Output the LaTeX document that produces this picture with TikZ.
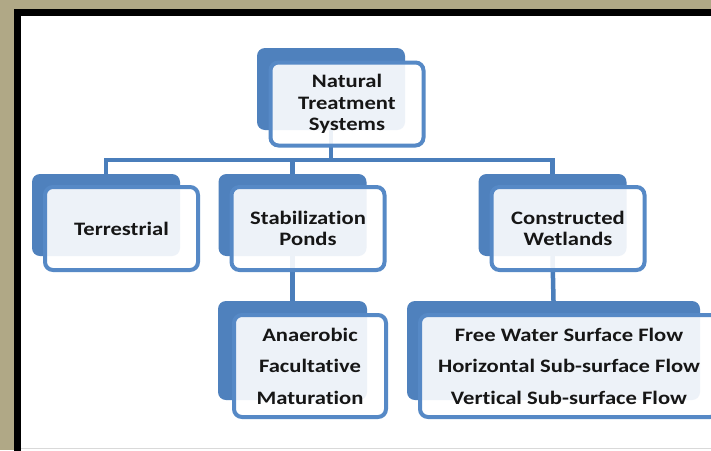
\documentclass[tikz,border=0pt]{standalone}
\usepackage{fontspec}
\setmainfont{Carlito}[FakeStretch=1.19,Ligatures=NoCommon]
\usepackage{tikz}
\usetikzlibrary{backgrounds,calc}
\definecolor{boxblue}{RGB}{79,129,189}
\definecolor{rimblue}{RGB}{86,137,198}
\definecolor{linkblue}{RGB}{74,126,187}
\definecolor{grass}{RGB}{176,168,134}
\definecolor{inktext}{RGB}{22,22,22}
\tikzset{
  backbox/.style={rectangle,rounded corners=8pt,fill=boxblue,draw=none,inner sep=0pt},
  frontbox/.style={rectangle,rounded corners=8pt,draw=rimblue,line width=4pt,
               fill=white,fill opacity=.9,text opacity=1,inner sep=0pt,align=center,
               text=inktext,font=\bfseries\fontsize{19}{21.5}\selectfont},
  listbox/.style={frontbox,font=\bfseries\fontsize{19}{31.5}\selectfont},
  link/.style={draw=linkblue,line width=4.5pt},
}

\begin{document}
\begin{tikzpicture}[x=1pt,y=-1pt]
  \useasboundingbox (0,0) rectangle (711,450);
  \def\bw{148pt}\def\bh{82pt}\def\fw{153pt}\def\fh{83pt}
  % level one
  \node[backbox,minimum width=\bw,minimum height=\bh] (natB) at (331,89) {};
  \node[frontbox,minimum width=\fw,minimum height=\fh] (nat) at (347,104)
    {Natural\\Treatment\\Systems};
  \node[backbox,minimum width=\bw,minimum height=\bh] (terB) at (106,215) {};
  \node[frontbox,minimum width=\fw,minimum height=\fh] (ter) at (121.5,228.5)
    {Terrestrial};
  \node[backbox,minimum width=\bw,minimum height=\bh] (staB) at (292.5,215) {};
  \node[frontbox,minimum width=\fw,minimum height=\fh] (sta) at (308,228.5)
    {Stabilization\\Ponds};
  \node[backbox,minimum width=\bw,minimum height=\bh] (conB) at (552.5,215) {};
  \node[frontbox,minimum width=\fw,minimum height=\fh] (con) at (568,228.5)
    {Constructed\\Wetlands};
  % level two
  \node[backbox,minimum width=149pt,minimum height=99pt] (anaB) at (292.5,350.5) {};
  \node[listbox,minimum width=152pt,minimum height=102pt] (ana) at (310,366)
    {Anaerobic\\Facultative\\Maturation};
  \node[backbox,minimum width=293pt,minimum height=99pt] (wetB) at (553.5,350.5) {};
  \node[listbox,minimum width=298pt,minimum height=102pt] (wet) at (569,366)
    {Free Water Surface Flow\\Horizontal Sub-surface Flow\\Vertical Sub-surface Flow};
  \begin{scope}[on background layer]
    \fill[grass] (0,0) rectangle (711,450);
    \draw[black,line width=7pt,fill=white] (17.5,12.5) rectangle (740,480);
    \draw[black!15,line width=1.5pt] (21,448.5) -- (711,448.5);
    \coordinate (bar) at (0,160);
    \draw[link] (natB.south) -- (natB.south |- bar);
    \draw[link] (terB.north) -- (terB.north |- bar) -- (conB.north |- bar) -- (conB.north);
    \draw[link] (staB.north) -- (staB.north |- bar);
    \draw[link] (staB.south) -- (anaB.north);
    \draw[link] (conB.south) -- (wetB.north);
  \end{scope}
\end{tikzpicture}
\end{document}
